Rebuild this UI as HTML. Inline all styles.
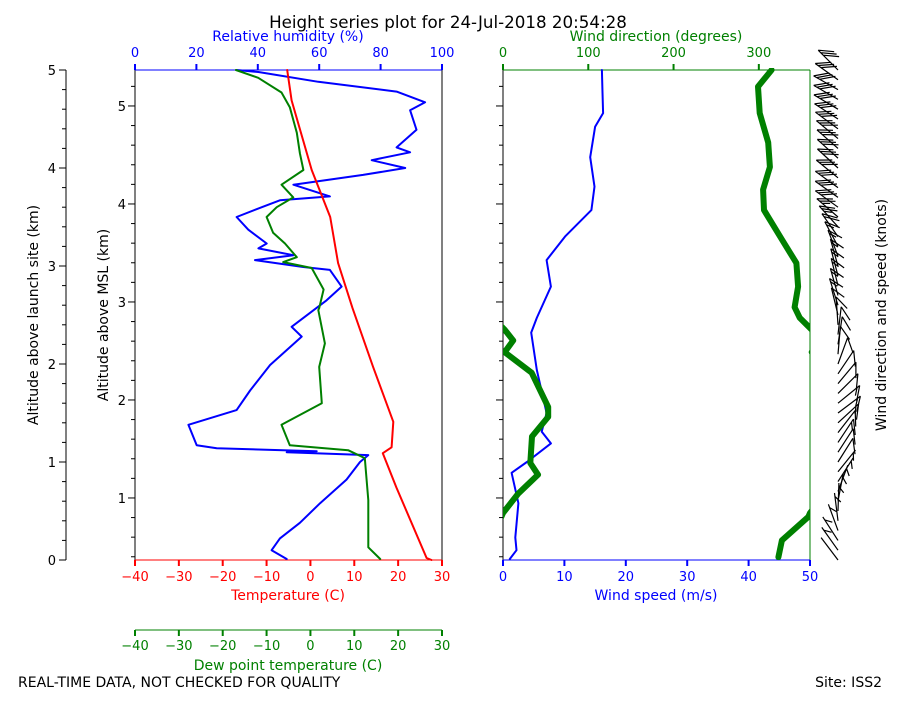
<!DOCTYPE html>
<html><head><meta charset="utf-8"><style>
body{margin:0;background:#fff}
svg text{font-family:"DejaVu Sans","Liberation Sans",sans-serif;font-size:13px}
svg text.t{font-size:14px}
</style></head><body>
<svg id="c" width="900" height="700" xmlns="http://www.w3.org/2000/svg">
<text x="448" y="28" text-anchor="middle" style="font-size:16.7px">Height series plot for 24-Jul-2018 20:54:28</text>
<text class="t" x="288" y="41" text-anchor="middle" fill="blue">Relative humidity (%)</text>
<text class="t" x="656" y="41" text-anchor="middle" fill="green">Wind direction (degrees)</text>
<text class="t" x="288" y="600" text-anchor="middle" fill="red">Temperature (C)</text>
<text class="t" x="656" y="600" text-anchor="middle" fill="blue">Wind speed (m/s)</text>
<text class="t" x="288" y="670" text-anchor="middle" fill="green">Dew point temperature (C)</text>
<text class="t" x="18" y="687">REAL-TIME DATA, NOT CHECKED FOR QUALITY</text>
<text class="t" x="882" y="687" text-anchor="end">Site: ISS2</text>
<text class="t" transform="translate(38,315) rotate(-90)" text-anchor="middle">Altitude above launch site (km)</text>
<text class="t" transform="translate(108,315) rotate(-90)" text-anchor="middle">Altitude above MSL (km)</text>
<text class="t" transform="translate(886,315) rotate(-90)" text-anchor="middle">Wind direction and speed (knots)</text>
<g id="g"></g>
</svg>
<script>
const tempH=[5.00,4.69,3.98,3.50,3.03,2.57,1.97,1.41,1.15,1.09,0.74,0.02,0];
const tempV=[-5.3,-4.3,0.3,4.5,6.3,9.6,14.3,18.9,18.5,16.5,19.6,26.5,27.6];
const dewH=[5.00,4.92,4.77,4.62,4.36,4.15,3.98,3.83,3.70,3.60,3.50,3.34,3.23,3.09,3.04,2.98,2.76,2.57,2.55,2.21,1.97,1.60,1.38,1.17,1.12,1.04,0.61,0.13,0.01];
const dewV=[-17.0,-11.9,-6.6,-4.7,-3.1,-2.4,-1.6,-6.6,-3.9,-7.7,-10.0,-8.5,-5.8,-3.1,-6.2,0.3,3.0,2.0,1.8,3.3,2.0,2.6,-6.6,-4.7,8.6,12.4,13.2,13.2,15.9];
const rhH=[5.00,4.98,4.88,4.78,4.67,4.59,4.39,4.21,4.16,4.08,4.00,3.93,3.83,3.71,3.67,3.60,3.50,3.37,3.23,3.18,3.11,3.06,2.99,2.96,2.79,2.65,2.38,2.28,1.99,1.73,1.53,1.38,1.17,1.14,1.11,1.10,1.07,1.00,0.82,0.58,0.38,0.22,0.10,0.01];
const rhV=[33.1,40.2,59.7,85.2,94.5,89.6,91.7,85.2,89.6,77.1,88.0,74.3,51.6,63.5,47.2,41.3,33.1,36.9,42.9,40.2,51.6,39.1,54.8,63.5,67.3,62.4,51.0,54.3,44.0,37.5,33.1,17.4,20.1,26.6,59.2,49.4,76.0,73.3,68.9,60.3,53.7,47.2,44.5,49.4];
const spdH=[5.00,4.77,4.56,4.42,4.11,3.81,3.57,3.30,3.06,2.79,2.47,2.32,1.94,1.50,1.31,1.19,1.00,0.89,0.58,0.23,0.10,0.01];
const spdV=[16.1,16.2,16.3,15.0,14.2,14.9,14.4,10.1,7.1,7.8,5.5,4.6,5.5,7.1,6.3,7.8,3.9,1.4,2.5,2.0,2.2,1.1];
const dirH=[5.00,4.83,4.56,4.26,4.01,3.78,3.57,3.27,3.03,2.79,2.58,2.47,2.35,2.24,2.12,1.91,1.56,1.46,1.26,0.99,0.87,0.68,0.48,0.44,0.20,0.03];
const dirV=[315,299,301,311,313,305,306,327,344,346,342,348,362,372,362,393.6,413,413,394,392,401,378,360,358,327,323];
const tTicks=[-40,-30,-20,-10,0,10,20,30];
const rhTicks=[0,20,40,60,80,100];
const wsTicks=[0,10,20,30,40,50];
const wdTicks=[0,100,200,300];
const altTicks=[0,1,2,3,4,5];
const mslTicks=[1,2,3,4,5];
const MSL_OFF=0.367;

const g=document.getElementById('g');const NS='http://www.w3.org/2000/svg';
function el(t,a,p){const e=document.createElementNS(NS,t);for(const k in a)e.setAttribute(k,a[k]);(p||g).appendChild(e);return e;}
const Y=h=>560-98*h;
const XT=t=>135+(t+40)*307/70;
const XRH=r=>135+r*3.07;
const XWS=s=>503+s*307/50;
const XWD=d=>503+d*307/360;
function line(x1,y1,x2,y2,c,w){return el('line',{x1,y1,x2,y2,stroke:c,'stroke-width':w||1});}
function txt(x,y,s,c,anchor){const t=el('text',{x,y,fill:c||'#000','text-anchor':anchor||'middle'});t.textContent=s;return t;}
function poly(hs,vs,fx,c,w,name){let d='';hs.forEach((h,i)=>{d+=(i?'L':'M')+fx(vs[i]).toFixed(1)+','+Y(h).toFixed(1);});
 const p=el('path',{d,fill:'none',stroke:c,'stroke-width':w,'stroke-linejoin':'round','stroke-linecap':'round'});
 
 return p;}

line(66,70,66,560,'#000');
for(let v=0;v<=5.001;v+=0.2){const y=Y(v);line(66,y,Math.abs(v-Math.round(v))<0.01?59:62,y,'#000');}
altTicks.forEach(v=>{const t=txt(56,Y(v)+5,String(v),'#000','end');});
[135,503].forEach(x0=>{for(let m=0.2;m<=5.65;m+=0.2){const y=Y(m-MSL_OFF);if(y<70||y>560)continue;line(x0,y,Math.abs(m-Math.round(m))<0.01?x0-7:x0-4,y,'#000');}});
mslTicks.forEach(v=>{const t=txt(126,Y(v-MSL_OFF)+5,String(v),'#000','end');});

line(135,70,135,560,'#000');line(442,70,442,560,'#000');
line(135,70,442,70,'blue');line(135,560,442,560,'red');
rhTicks.forEach(v=>{line(XRH(v),70,XRH(v),64,'blue',2);const t=txt(XRH(v),57,String(v),'blue');});
tTicks.forEach(v=>{line(XT(v),560,XT(v),566,'red',2);const t=txt(XT(v),581,String(v).replace('-','\u2212'),'red');});
line(135,630,442,630,'green');
tTicks.forEach(v=>{line(XT(v),630,XT(v),636,'green',2);const t=txt(XT(v),650,String(v).replace('-','\u2212'),'green');});

line(503,70,503,560,'#000');line(810,70,810,560,'green');
line(503,70,810,70,'green');line(503,560,810,560,'blue');
wdTicks.forEach(v=>{line(XWD(v),70,XWD(v),64,'green',2);const t=txt(XWD(v),57,String(v),'green');});
wsTicks.forEach(v=>{line(XWS(v),560,XWS(v),566,'blue',2);const t=txt(XWS(v),581,String(v),'blue');});

poly(rhH,rhV,XRH,'blue',2,'rh-line');
poly(dewH,dewV,XT,'green',2,'dewpoint-line');
poly(tempH,tempV,XT,'red',2,'temperature-line');
poly(spdH,spdV,XWS,'blue',2,'wind-speed-line');
const cp=el('clipPath',{id:'rc'});el('rect',{x:503,y:68,width:307,height:494},cp);
const dg=el('g',{'clip-path':'url(#rc)'});
[0,-360].forEach(off=>{let d='';dirH.forEach((h,i)=>{d+=(i?'L':'M')+XWD(dirV[i]+off).toFixed(1)+','+Y(h).toFixed(1);});
 const p=el('path',{d,fill:'none',stroke:'green','stroke-width':6,'stroke-linejoin':'round','stroke-linecap':'round'},dg);
 
 });

function interp(hs,vs,h){for(let i=0;i<hs.length-1;i++){const a=hs[i],b=hs[i+1];if((h<=a&&h>=b)){const f=(a-b)?(h-b)/(a-b):0;return vs[i+1]+f*(vs[i]-vs[i+1]);}}return vs[vs.length-1];}
const bg=el('g',{});
for(let k=0;k<=50;k++){const h=k*0.1;const s=interp(spdH,spdV,h)*1.944;const dd=(interp(dirH,dirV,h)%360)*Math.PI/180;
 const bx=838,by=Y(h);const ux=Math.sin(dd),uy=-Math.cos(dd);const px=Math.cos(dd),py=Math.sin(dd);
 const L=28;const tx=bx+ux*L,ty=by+uy*L;
 const b=el('path',{fill:'none',stroke:'#000','stroke-width':1.2},bg);
 
 
 let d='M'+bx.toFixed(1)+','+by.toFixed(1)+'L'+tx.toFixed(1)+','+ty.toFixed(1);
 let kn=Math.round(s/5)*5;let pos=0;
 const vx=0.64*px-0.77*ux,vy=0.64*py-0.77*uy;
 while(kn>=10){const sx=tx-ux*pos,sy=ty-uy*pos;d+='M'+sx.toFixed(1)+','+sy.toFixed(1)+'L'+(sx+vx*16).toFixed(1)+','+(sy+vy*16).toFixed(1);kn-=10;pos+=3.5;}
 if(kn>=5){if(pos===0)pos=3.5;const sx=tx-ux*pos,sy=ty-uy*pos;d+='M'+sx.toFixed(1)+','+sy.toFixed(1)+'L'+(sx+vx*8).toFixed(1)+','+(sy+vy*8).toFixed(1);}
 b.setAttribute('d',d);}
</script>
</body></html>
